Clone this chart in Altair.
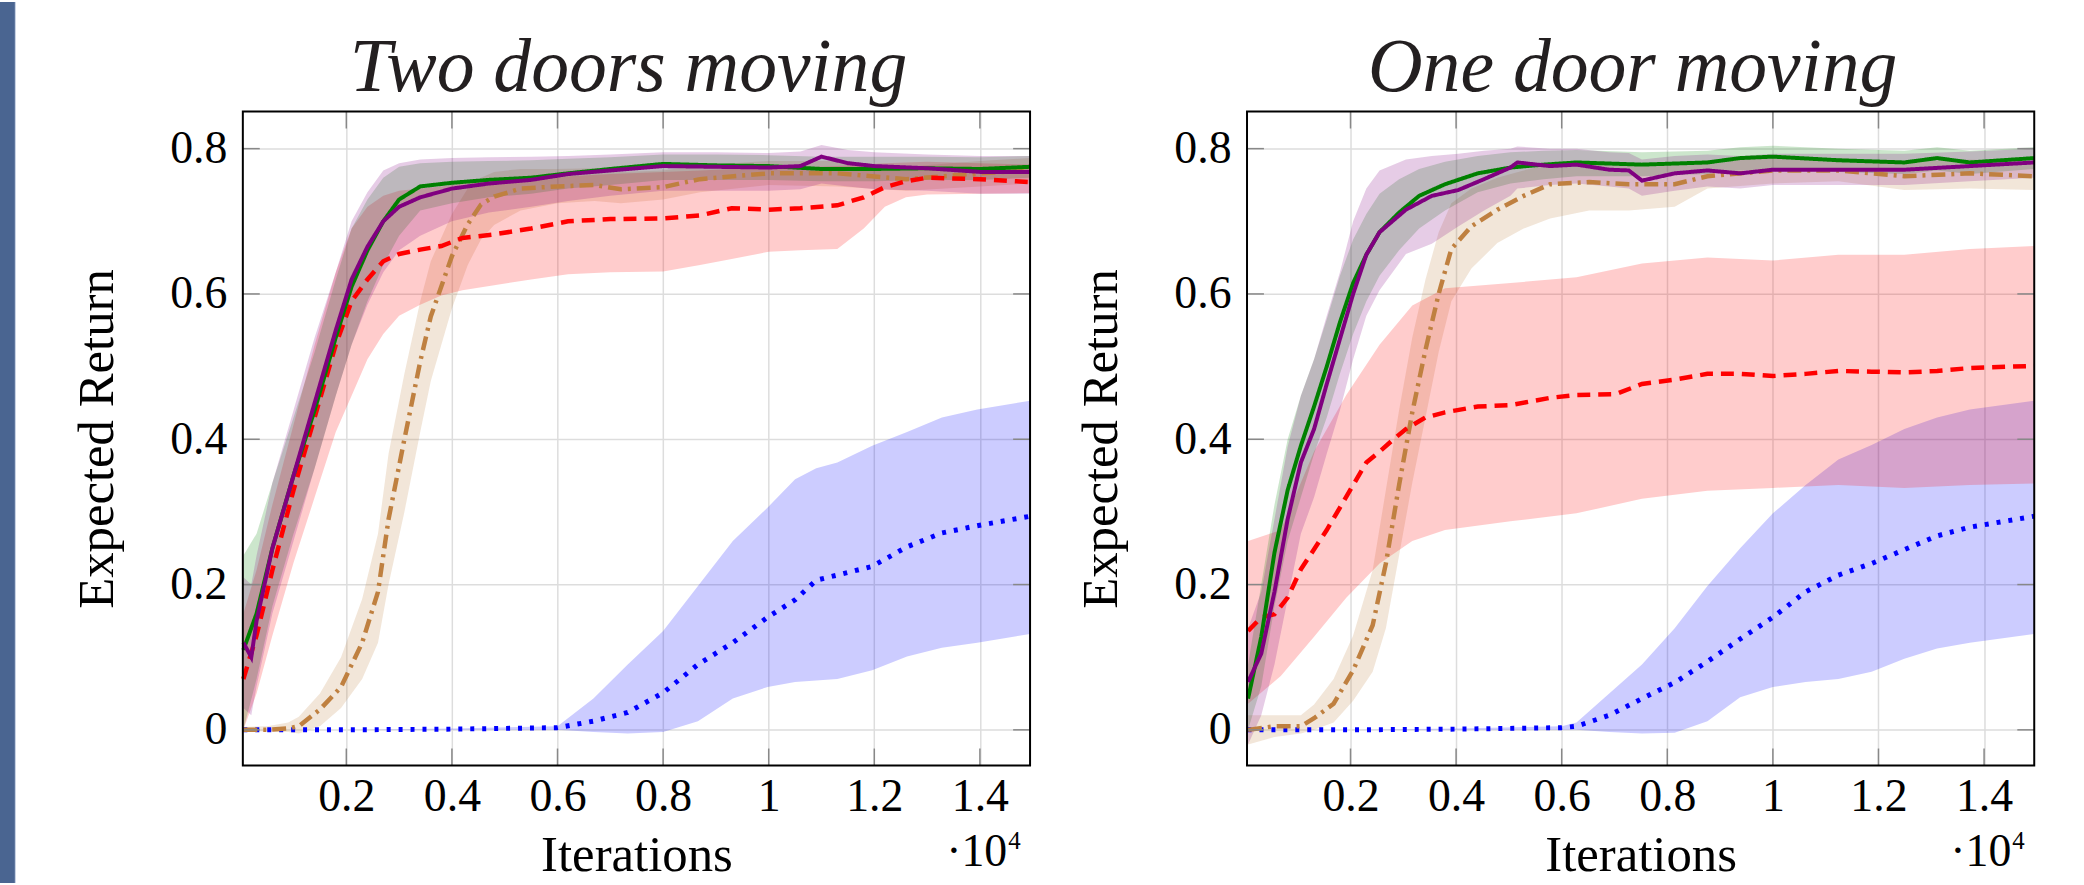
import altair as alt
import pandas as pd

# ---------------- data (x in units of 10^4 iterations) ----------------
X_TICKS = [0.2, 0.4, 0.6, 0.8, 1.0, 1.2, 1.4]
Y_TICKS = [0.0, 0.2, 0.4, 0.6, 0.8]
TITLES = ["Two doors moving", "One door moving"]

# ---- Left panel: Two doors moving ----
L_green_x = [0.005, 0.03, 0.06, 0.10, 0.14, 0.18, 0.21, 0.24, 0.27, 0.30, 0.34, 0.40, 0.47, 0.55, 0.62, 0.70, 0.80, 0.90, 1.00, 1.10, 1.20, 1.30, 1.40, 1.495]
L_green_y = [0.11, 0.16, 0.25, 0.35, 0.44, 0.54, 0.61, 0.66, 0.70, 0.73, 0.748, 0.753, 0.757, 0.760, 0.766, 0.772, 0.779, 0.777, 0.776, 0.772, 0.772, 0.773, 0.772, 0.775]
L_green_lo = [0.00, 0.07, 0.17, 0.27, 0.36, 0.46, 0.53, 0.59, 0.64, 0.68, 0.715, 0.725, 0.733, 0.738, 0.745, 0.750, 0.757, 0.757, 0.757, 0.755, 0.755, 0.757, 0.757, 0.760]
L_green_hi = [0.24, 0.27, 0.34, 0.43, 0.52, 0.62, 0.69, 0.73, 0.76, 0.775, 0.78, 0.782, 0.783, 0.784, 0.786, 0.788, 0.792, 0.792, 0.791, 0.789, 0.789, 0.789, 0.788, 0.790]

L_purple_x = [0.005, 0.02, 0.03, 0.06, 0.10, 0.14, 0.18, 0.21, 0.24, 0.27, 0.30, 0.34, 0.40, 0.47, 0.55, 0.62, 0.70, 0.80, 0.90, 1.00, 1.06, 1.10, 1.15, 1.20, 1.30, 1.40, 1.495]
L_purple_y = [0.12, 0.10, 0.15, 0.25, 0.35, 0.45, 0.55, 0.62, 0.665, 0.70, 0.72, 0.733, 0.745, 0.752, 0.757, 0.765, 0.770, 0.776, 0.775, 0.774, 0.776, 0.789, 0.780, 0.776, 0.773, 0.768, 0.768]
L_purple_lo = [0.03, 0.02, 0.06, 0.16, 0.26, 0.36, 0.46, 0.53, 0.585, 0.63, 0.66, 0.68, 0.70, 0.712, 0.72, 0.728, 0.735, 0.742, 0.742, 0.742, 0.744, 0.752, 0.748, 0.744, 0.742, 0.738, 0.738]
L_purple_hi = [0.21, 0.20, 0.24, 0.34, 0.44, 0.54, 0.63, 0.70, 0.74, 0.77, 0.78, 0.785, 0.787, 0.788, 0.789, 0.79, 0.792, 0.795, 0.795, 0.794, 0.796, 0.805, 0.798, 0.795, 0.792, 0.79, 0.79]

L_red_x = [0.005, 0.03, 0.06, 0.10, 0.14, 0.18, 0.21, 0.24, 0.27, 0.30, 0.34, 0.38, 0.42, 0.48, 0.55, 0.62, 0.70, 0.80, 0.87, 0.93, 1.00, 1.06, 1.13, 1.18, 1.22, 1.26, 1.30, 1.40, 1.495]
L_red_y = [0.07, 0.13, 0.22, 0.33, 0.43, 0.53, 0.59, 0.62, 0.645, 0.655, 0.661, 0.666, 0.677, 0.682, 0.690, 0.700, 0.703, 0.704, 0.708, 0.718, 0.716, 0.718, 0.722, 0.733, 0.747, 0.755, 0.760, 0.758, 0.754]
L_red_lo = [0.00, 0.05, 0.13, 0.23, 0.32, 0.41, 0.46, 0.51, 0.545, 0.57, 0.585, 0.598, 0.605, 0.612, 0.620, 0.627, 0.630, 0.631, 0.640, 0.648, 0.658, 0.660, 0.662, 0.690, 0.720, 0.733, 0.737, 0.738, 0.739]
L_red_hi = [0.16, 0.22, 0.31, 0.42, 0.53, 0.63, 0.69, 0.72, 0.735, 0.742, 0.745, 0.748, 0.752, 0.755, 0.758, 0.762, 0.765, 0.768, 0.770, 0.772, 0.773, 0.774, 0.776, 0.778, 0.780, 0.781, 0.782, 0.780, 0.778]

L_brown_x = [0.005, 0.05, 0.09, 0.11, 0.15, 0.19, 0.23, 0.26, 0.28, 0.31, 0.34, 0.36, 0.40, 0.43, 0.455, 0.48, 0.53, 0.60, 0.67, 0.72, 0.80, 0.87, 1.00, 1.13, 1.26, 1.40, 1.495]
L_brown_y = [0.0, 0.0, 0.002, 0.005, 0.028, 0.059, 0.12, 0.19, 0.29, 0.40, 0.507, 0.569, 0.652, 0.696, 0.723, 0.734, 0.745, 0.748, 0.75, 0.744, 0.747, 0.758, 0.766, 0.766, 0.758, 0.766, 0.77]
L_brown_lo = [0.0, -0.003, -0.003, -0.005, 0.005, 0.03, 0.07, 0.12, 0.20, 0.30, 0.41, 0.48, 0.58, 0.64, 0.675, 0.695, 0.715, 0.725, 0.728, 0.725, 0.730, 0.740, 0.750, 0.748, 0.742, 0.748, 0.752]
L_brown_hi = [0.004, 0.005, 0.01, 0.018, 0.05, 0.10, 0.18, 0.27, 0.38, 0.49, 0.59, 0.645, 0.71, 0.745, 0.76, 0.768, 0.772, 0.772, 0.773, 0.768, 0.77, 0.777, 0.783, 0.783, 0.775, 0.783, 0.787]

L_blue_x = [0.005, 0.2, 0.4, 0.6, 0.668, 0.733, 0.80, 0.866, 0.932, 0.998, 1.05, 1.09, 1.13, 1.196, 1.262, 1.328, 1.395, 1.495]
L_blue_y = [0.0, 0.0, 0.001, 0.003, 0.012, 0.024, 0.051, 0.09, 0.12, 0.155, 0.179, 0.206, 0.213, 0.225, 0.252, 0.271, 0.281, 0.294]
L_blue_lo = [0.0, 0.0, 0.0, 0.0, -0.003, -0.005, -0.003, 0.012, 0.043, 0.059, 0.066, 0.068, 0.070, 0.082, 0.101, 0.113, 0.12, 0.132]
L_blue_hi = [0.0, 0.0, 0.002, 0.005, 0.043, 0.09, 0.136, 0.198, 0.26, 0.306, 0.345, 0.36, 0.368, 0.391, 0.41, 0.43, 0.441, 0.453]

# ---- Right panel: One door moving ----
R_green_x = [0.006, 0.031, 0.056, 0.081, 0.106, 0.131, 0.155, 0.18, 0.205, 0.23, 0.255, 0.292, 0.33, 0.379, 0.441, 0.503, 0.566, 0.628, 0.752, 0.876, 0.938, 1.0, 1.124, 1.249, 1.311, 1.373, 1.495]
R_green_y = [0.043, 0.128, 0.244, 0.33, 0.391, 0.445, 0.50, 0.561, 0.615, 0.654, 0.685, 0.712, 0.735, 0.751, 0.766, 0.774, 0.778, 0.781, 0.778, 0.781, 0.787, 0.789, 0.784, 0.781, 0.787, 0.781, 0.787]
R_green_lo = [0.0, 0.06, 0.17, 0.26, 0.32, 0.38, 0.43, 0.49, 0.545, 0.59, 0.625, 0.66, 0.69, 0.715, 0.74, 0.752, 0.758, 0.762, 0.762, 0.765, 0.77, 0.772, 0.768, 0.765, 0.77, 0.765, 0.772]
R_green_hi = [0.09, 0.20, 0.31, 0.40, 0.46, 0.51, 0.565, 0.625, 0.675, 0.71, 0.738, 0.758, 0.772, 0.782, 0.79, 0.795, 0.797, 0.798, 0.795, 0.797, 0.802, 0.804, 0.8, 0.797, 0.802, 0.797, 0.802]

R_purple_x = [0.006, 0.031, 0.056, 0.081, 0.106, 0.131, 0.155, 0.18, 0.205, 0.23, 0.255, 0.305, 0.354, 0.404, 0.453, 0.503, 0.516, 0.578, 0.628, 0.690, 0.727, 0.752, 0.814, 0.876, 0.938, 1.0, 1.124, 1.249, 1.373, 1.495]
R_purple_y = [0.066, 0.105, 0.19, 0.29, 0.368, 0.414, 0.476, 0.538, 0.60, 0.654, 0.685, 0.716, 0.735, 0.743, 0.758, 0.774, 0.781, 0.776, 0.778, 0.771, 0.77, 0.756, 0.766, 0.77, 0.766, 0.771, 0.771, 0.771, 0.776, 0.781]
R_purple_lo = [-0.02, 0.02, 0.09, 0.18, 0.27, 0.32, 0.38, 0.44, 0.51, 0.57, 0.605, 0.655, 0.669, 0.693, 0.715, 0.735, 0.745, 0.75, 0.752, 0.748, 0.745, 0.735, 0.742, 0.748, 0.745, 0.75, 0.75, 0.75, 0.755, 0.76]
R_purple_hi = [0.14, 0.19, 0.29, 0.39, 0.46, 0.51, 0.57, 0.63, 0.70, 0.745, 0.77, 0.785, 0.79, 0.793, 0.797, 0.80, 0.803, 0.80, 0.80, 0.795, 0.794, 0.785, 0.79, 0.792, 0.79, 0.793, 0.793, 0.793, 0.796, 0.80]

R_red_x = [0.006, 0.031, 0.056, 0.081, 0.106, 0.155, 0.18, 0.205, 0.23, 0.255, 0.28, 0.305, 0.342, 0.379, 0.441, 0.503, 0.578, 0.628, 0.702, 0.752, 0.814, 0.876, 0.938, 1.0, 1.062, 1.124, 1.187, 1.249, 1.311, 1.373, 1.495]
R_red_y = [0.136, 0.155, 0.159, 0.182, 0.221, 0.275, 0.306, 0.337, 0.368, 0.383, 0.399, 0.414, 0.43, 0.437, 0.445, 0.447, 0.457, 0.461, 0.462, 0.476, 0.482, 0.49, 0.49, 0.487, 0.49, 0.494, 0.493, 0.492, 0.494, 0.498, 0.501]
R_redband_x = [0.006, 0.068, 0.131, 0.192, 0.255, 0.317, 0.379, 0.503, 0.628, 0.752, 0.876, 1.0, 1.124, 1.249, 1.373, 1.495]
R_red_lo = [0.036, 0.074, 0.128, 0.182, 0.229, 0.26, 0.275, 0.287, 0.298, 0.318, 0.329, 0.333, 0.337, 0.333, 0.337, 0.339]
R_red_hi = [0.26, 0.275, 0.383, 0.461, 0.53, 0.584, 0.608, 0.615, 0.623, 0.642, 0.65, 0.646, 0.654, 0.654, 0.662, 0.666]

R_brown_x = [0.006, 0.056, 0.106, 0.131, 0.168, 0.205, 0.242, 0.267, 0.292, 0.317, 0.342, 0.367, 0.391, 0.429, 0.478, 0.528, 0.578, 0.652, 0.727, 0.814, 0.876, 1.0, 1.124, 1.249, 1.373, 1.495]
R_brown_y = [0.0, 0.005, 0.005, 0.016, 0.036, 0.082, 0.144, 0.229, 0.337, 0.437, 0.523, 0.60, 0.662, 0.693, 0.716, 0.735, 0.751, 0.754, 0.751, 0.751, 0.762, 0.77, 0.77, 0.762, 0.766, 0.762]
R_brown_lo = [-0.02, -0.01, -0.005, 0.0, 0.01, 0.04, 0.08, 0.14, 0.24, 0.34, 0.43, 0.52, 0.59, 0.635, 0.67, 0.69, 0.704, 0.715, 0.715, 0.72, 0.745, 0.752, 0.755, 0.743, 0.745, 0.743]
R_brown_hi = [0.02, 0.02, 0.02, 0.035, 0.07, 0.13, 0.22, 0.33, 0.44, 0.54, 0.62, 0.685, 0.725, 0.745, 0.76, 0.77, 0.778, 0.782, 0.78, 0.78, 0.783, 0.787, 0.787, 0.782, 0.785, 0.782]

R_blue_x = [0.005, 0.2, 0.4, 0.6, 0.628, 0.69, 0.752, 0.814, 0.876, 0.938, 1.0, 1.062, 1.124, 1.187, 1.249, 1.311, 1.373, 1.495]
R_blue_y = [0.0, 0.0, 0.001, 0.003, 0.005, 0.02, 0.043, 0.065, 0.094, 0.125, 0.155, 0.19, 0.213, 0.229, 0.248, 0.267, 0.279, 0.294]
R_blue_lo = [0.0, 0.0, 0.0, 0.0, 0.0, -0.003, -0.005, -0.004, 0.012, 0.045, 0.059, 0.066, 0.070, 0.08, 0.098, 0.112, 0.12, 0.132]
R_blue_hi = [0.0, 0.0, 0.002, 0.005, 0.01, 0.05, 0.09, 0.14, 0.198, 0.25, 0.298, 0.337, 0.372, 0.392, 0.414, 0.43, 0.441, 0.453]

# ---------------- styling ----------------
COLORS = {"blue": "#0000FF", "brown": "#BF8040", "red": "#FF0000", "green": "#008000", "purple": "#800080"}
DASH = {"blue": [4, 8], "brown": [14, 6, 3, 6], "red": [13, 8], "green": [1, 0], "purple": [1, 0]}
WIDTH = {"blue": 5, "brown": 4.5, "red": 4.5, "green": 4, "purple": 4}

PW, PH = 791, 657
X_DOMAIN = [0.004, 1.495]
Y_DOMAIN = [-0.049, 0.851]
SERIF = "Liberation Serif"

xaxis = alt.Axis(title="Iterations", values=X_TICKS, format="~g", grid=True, gridColor="#dddddd",
                 gridWidth=1.5, ticks=False, domain=False, labelFont=SERIF, labelFontSize=46,
                 labelColor="black", labelPadding=9, labelFlush=False, titleFont=SERIF,
                 titleFontSize=51, titleFontWeight="normal", titleColor="black",
                 titleX=PW / 2, titleY=106, titleBaseline="alphabetic", titleAlign="center")
yaxis = alt.Axis(title="Expected Return", values=Y_TICKS, format="~g", grid=True, gridColor="#dddddd",
                 gridWidth=1.5, ticks=False, domain=False, labelFont=SERIF, labelFontSize=46,
                 labelColor="black", labelPadding=16, labelFlush=False, titleFont=SERIF,
                 titleFontSize=51, titleFontWeight="normal", titleColor="black",
                 titleX=-131, titleY=PH / 2, titleAngle=270, titleBaseline="alphabetic",
                 titleAlign="center")

xs = alt.Scale(domain=X_DOMAIN, nice=False, zero=False)
ys = alt.Scale(domain=Y_DOMAIN, nice=False, zero=False)


def X(field):
    return alt.X(field, type="quantitative", scale=xs, axis=xaxis)


def Y(field):
    return alt.Y(field, type="quantitative", scale=ys, axis=yaxis)


def band(name, x, lo, hi):
    df = pd.DataFrame({"x": x, "lo": lo, "hi": hi})
    return alt.Chart(df).mark_area(color=COLORS[name], opacity=0.2).encode(
        x=X("x"), y=Y("lo"), y2=alt.Y2("hi"))


def line(name, x, y):
    df = pd.DataFrame({"x": x, "y": y})
    return alt.Chart(df).mark_line(color=COLORS[name], strokeWidth=WIDTH[name],
                                   strokeDash=DASH[name], strokeCap="butt").encode(
        x=X("x"), y=Y("y"))


def tick_layers():
    xt = pd.DataFrame({"x": X_TICKS})
    yt = pd.DataFrame({"y": Y_TICKS})
    tc = "#888888"
    top = alt.Chart(xt).mark_rule(color=tc, strokeWidth=1.5).encode(x=X("x"), y=alt.value(0), y2=alt.value(17))
    bot = alt.Chart(xt).mark_rule(color=tc, strokeWidth=1.5).encode(x=X("x"), y=alt.value(PH - 17), y2=alt.value(PH))
    lef = alt.Chart(yt).mark_rule(color=tc, strokeWidth=1.5).encode(y=Y("y"), x=alt.value(0), x2=alt.value(17))
    rig = alt.Chart(yt).mark_rule(color=tc, strokeWidth=1.5).encode(y=Y("y"), x=alt.value(PW - 17), x2=alt.value(PW))
    return [top, bot, lef, rig]


def frame_layer():
    one = pd.DataFrame({"a": [0]})
    return alt.Chart(one).mark_rect(fill=None, fillOpacity=0, stroke="black", strokeWidth=2).encode(
        x=alt.value(0), x2=alt.value(PW), y=alt.value(0), y2=alt.value(PH))


def text_layers(title):
    one = pd.DataFrame({"a": [0]})
    ttl = alt.Chart(one).mark_text(text=title, font=SERIF, fontStyle="italic", fontSize=76,
                                   align="center", baseline="alphabetic", color="#231f20").encode(
        x=alt.value(PW / 2 - 8), y=alt.value(-21))
    base = alt.Chart(one).mark_text(text="·10", font=SERIF, fontSize=46, align="right",
                                    baseline="alphabetic", color="black").encode(
        x=alt.value(PW - 23), y=alt.value(PH + 101))
    sup = alt.Chart(one).mark_text(text="4", font=SERIF, fontSize=25, align="left",
                                   baseline="alphabetic", color="black").encode(
        x=alt.value(PW - 22), y=alt.value(PH + 84))
    return [ttl, base, sup]


def panel(title, data, extra=None):
    layers = []
    if extra is not None:
        layers += extra
    order = ["blue", "brown", "red", "green", "purple"]
    for n in order:
        bx, lo, hi = data[n]["band"]
        layers.append(band(n, bx, lo, hi))
    for n in order:
        x, y = data[n]["line"]
        layers.append(line(n, x, y))
    layers += tick_layers()
    layers.append(frame_layer())
    layers += text_layers(title)
    return alt.layer(*layers).properties(width=PW, height=PH)


left_data = {
    "green": {"line": (L_green_x, L_green_y), "band": (L_green_x, L_green_lo, L_green_hi)},
    "purple": {"line": (L_purple_x, L_purple_y), "band": (L_purple_x, L_purple_lo, L_purple_hi)},
    "red": {"line": (L_red_x, L_red_y), "band": (L_red_x, L_red_lo, L_red_hi)},
    "brown": {"line": (L_brown_x, L_brown_y), "band": (L_brown_x, L_brown_lo, L_brown_hi)},
    "blue": {"line": (L_blue_x, L_blue_y), "band": (L_blue_x, L_blue_lo, L_blue_hi)},
}
right_data = {
    "green": {"line": (R_green_x, R_green_y), "band": (R_green_x, R_green_lo, R_green_hi)},
    "purple": {"line": (R_purple_x, R_purple_y), "band": (R_purple_x, R_purple_lo, R_purple_hi)},
    "red": {"line": (R_red_x, R_red_y), "band": (R_redband_x, R_red_lo, R_red_hi)},
    "brown": {"line": (R_brown_x, R_brown_y), "band": (R_brown_x, R_brown_lo, R_brown_hi)},
    "blue": {"line": (R_blue_x, R_blue_y), "band": (R_blue_x, R_blue_lo, R_blue_hi)},
}

# slide-side accent bar at the far left of the page
one_row = pd.DataFrame({"a": [0]})
side_bar = alt.Chart(one_row).mark_rect(color="#4a6591").encode(
    x=alt.value(-244), x2=alt.value(-229), y=alt.value(-110), y2=alt.value(775))
side_line = alt.Chart(one_row).mark_rect(color="#c5d0e3").encode(
    x=alt.value(-229), x2=alt.value(-228), y=alt.value(-110), y2=alt.value(775))

left = panel(TITLES[0], left_data, extra=[side_bar, side_line])
right = panel(TITLES[1], right_data)

chart = alt.hconcat(left, right, spacing=218, bounds="flush").properties(
    padding={"left": 0, "top": 0, "right": 40, "bottom": 0}
).configure_view(stroke=None)

chart.save("out.html", embed_options={"renderer": "svg", "actions": False})
